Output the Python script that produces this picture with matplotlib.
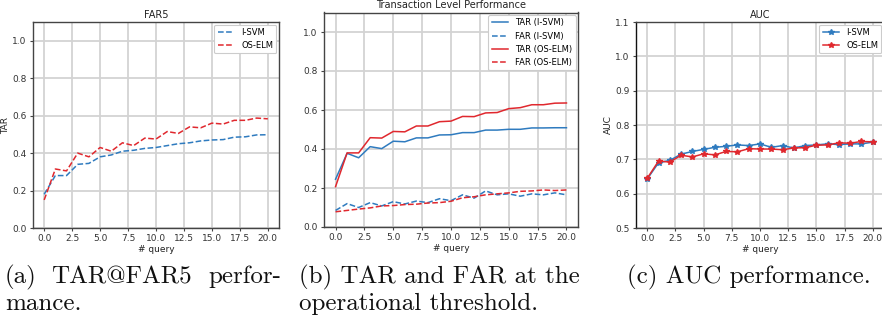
import matplotlib
matplotlib.use("Agg")
import matplotlib.pyplot as plt
import numpy as np

queries = np.arange(21)

# TAR@FAR5
far5_isvm = [0.18, 0.28, 0.28, 0.34, 0.345, 0.38, 0.39, 0.41, 0.415, 0.425, 0.43,
             0.44, 0.45, 0.455, 0.465, 0.47, 0.472, 0.485, 0.487, 0.497, 0.498]
far5_oselm = [0.15, 0.315, 0.305, 0.40, 0.38, 0.43, 0.41, 0.455, 0.44, 0.48, 0.475,
              0.515, 0.505, 0.54, 0.535, 0.56, 0.555, 0.575, 0.575, 0.587, 0.583]

# transaction level
tar_isvm = [0.245, 0.378, 0.355, 0.412, 0.402, 0.44, 0.437, 0.457, 0.457, 0.472, 0.473,
            0.484, 0.484, 0.497, 0.497, 0.501, 0.501, 0.508, 0.508, 0.509, 0.509]
far_isvm = [0.085, 0.12, 0.10, 0.125, 0.108, 0.13, 0.118, 0.133, 0.125, 0.145, 0.135,
            0.165, 0.148, 0.185, 0.165, 0.17, 0.158, 0.17, 0.165, 0.175, 0.165]
tar_oselm = [0.207, 0.38, 0.38, 0.458, 0.456, 0.49, 0.488, 0.518, 0.518, 0.54, 0.543,
             0.567, 0.566, 0.585, 0.587, 0.607, 0.612, 0.627, 0.627, 0.635, 0.636]
far_oselm = [0.078, 0.085, 0.092, 0.098, 0.108, 0.11, 0.115, 0.117, 0.123, 0.125, 0.132,
             0.15, 0.155, 0.165, 0.17, 0.175, 0.183, 0.185, 0.19, 0.187, 0.19]

# AUC
auc_isvm = [0.643, 0.69, 0.697, 0.715, 0.723, 0.729, 0.735, 0.738, 0.742, 0.74, 0.745,
            0.735, 0.74, 0.733, 0.74, 0.742, 0.745, 0.743, 0.745, 0.745, 0.75]
auc_oselm = [0.645, 0.695, 0.692, 0.712, 0.707, 0.716, 0.713, 0.723, 0.722, 0.731, 0.73,
             0.73, 0.728, 0.733, 0.734, 0.741, 0.742, 0.748, 0.747, 0.752, 0.751]

xticks = [0.0, 2.5, 5.0, 7.5, 10.0, 12.5, 15.0, 17.5, 20.0]

BLUE = "#2f7bbf"
RED = "#e0282e"

W, H = 882, 322
fig = plt.figure(figsize=(W / 100, H / 100), dpi=100)


def make_axes(left, top, right, bottom):
    return fig.add_axes([left / W, 1 - bottom / H, (right - left) / W, (bottom - top) / H])


def style(ax, title, ylim, yticks, ylabel=None):
    ax.set_xlim(-1, 21)
    ax.set_ylim(*ylim)
    ax.set_xticks(xticks)
    ax.set_xticklabels([f"{t:.1f}" for t in xticks])
    ax.set_yticks(yticks)
    ax.set_yticklabels([f"{t:.1f}" for t in yticks])
    ax.grid(True, color="#d3d3d3", linewidth=1.3)
    ax.set_axisbelow(True)
    for s in ax.spines.values():
        s.set_color("#444444")
        s.set_linewidth(1.0)
    ax.tick_params(labelsize=6.5, length=2.5, width=0.8, color="#444444",
                   labelcolor="#333333", pad=2)
    ax.set_title(title, fontsize=7, pad=3, color="#222222")
    ax.set_xlabel("# query", fontsize=6.5, labelpad=1, color="#222222")
    if ylabel:
        ax.set_ylabel(ylabel, fontsize=6.5, labelpad=2, color="#222222")


def legend(ax):
    leg = ax.legend(loc="upper right", fontsize=6, handlelength=2.0,
                    borderaxespad=0.3, framealpha=1, edgecolor="#cccccc")
    leg.get_frame().set_linewidth(0.8)


ax1 = make_axes(33, 22, 279, 228)
ax1.plot(queries, far5_isvm, "--", color=BLUE, lw=1.1, label="I-SVM")
ax1.plot(queries, far5_oselm, "--", color=RED, lw=1.1, label="OS-ELM")
style(ax1, "FAR5", (0, 1.1), np.arange(0, 1.01, 0.2), ylabel="TAR")
legend(ax1)

ax2 = make_axes(324, 12.5, 578, 227)
ax2.plot(queries, tar_isvm, "-", color=BLUE, lw=1.1, label="TAR (I-SVM)")
ax2.plot(queries, far_isvm, "--", color=BLUE, lw=1.1, label="FAR (I-SVM)")
ax2.plot(queries, tar_oselm, "-", color=RED, lw=1.1, label="TAR (OS-ELM)")
ax2.plot(queries, far_oselm, "--", color=RED, lw=1.1, label="FAR (OS-ELM)")
style(ax2, "Transaction Level Performance", (0, 1.1), np.arange(0, 1.01, 0.2))
legend(ax2)

ax3 = make_axes(636, 22, 884, 228)
ax3.plot(queries, auc_isvm, "-*", color=BLUE, lw=1.1, ms=4, label="I-SVM")
ax3.plot(queries, auc_oselm, "-*", color=RED, lw=1.1, ms=4, label="OS-ELM")
style(ax3, "AUC", (0.5, 1.1), np.arange(0.5, 1.101, 0.1), ylabel="AUC")
ax3.spines["left"].set_color("#111111")
legend(ax3)

# captions
cap = dict(fontsize=18, family=["cmr10", "DejaVu Serif"], color="#111111",
           va="baseline")
y1 = 1 - 283 / H
y2 = 1 - 310 / H
fig.text(5 / W, y1, "(a)", ha="left", **cap)
fig.text(121 / W, y1, "TAR@FAR5", ha="center", **cap)
fig.text(281 / W, y1, "perfor-", ha="right", **cap)
fig.text(5 / W, y2, "mance.", ha="left", **cap)
fig.text(299 / W, y1, "(b) TAR and FAR at the", ha="left", **cap)
fig.text(299 / W, y2, "operational threshold.", ha="left", **cap)
fig.text(627 / W, y1, "(c) AUC performance.", ha="left", **cap)

fig.savefig("out.png", dpi=100)
